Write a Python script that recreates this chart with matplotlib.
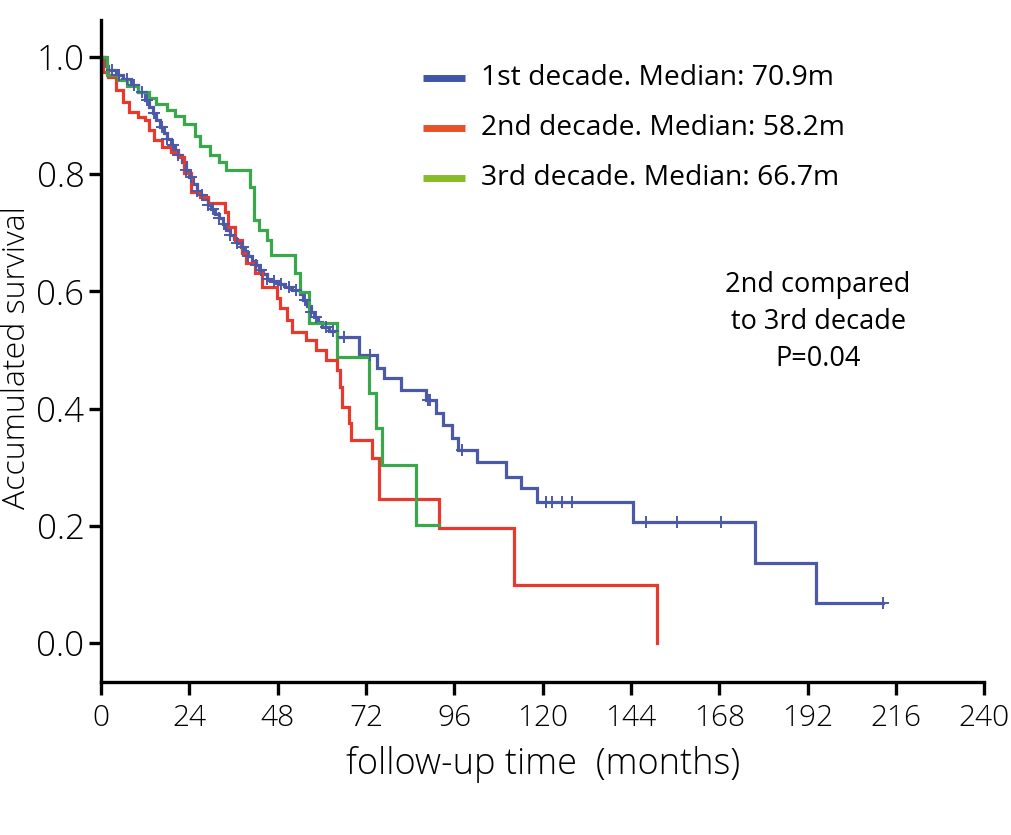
import numpy as np
import matplotlib
matplotlib.use("Agg")
import matplotlib.pyplot as plt
from matplotlib import font_manager

# ---------------- data ----------------
blue_t = [0, 1, 2, 4, 6, 8, 10, 12, 13, 14, 15, 16, 17, 18, 19, 20, 21, 22, 23, 24, 25, 26, 27, 28,
          29, 30, 31, 32, 33, 34, 35, 36, 37, 38, 39, 40, 41, 42, 43, 44, 45, 46, 48, 50, 52, 54,
          55, 56, 57, 58, 59, 60, 62, 64, 70.2, 75, 77, 81.6, 88.3, 91, 93, 95.5, 97, 102.2, 110,
          114, 118.4, 144.7, 177.8, 194.3]
blue_s = [1.0, 0.985, 0.978, 0.97, 0.962, 0.952, 0.94, 0.927, 0.915, 0.905, 0.893, 0.88, 0.87,
          0.86, 0.85, 0.841, 0.832, 0.82, 0.808, 0.795, 0.784, 0.772, 0.765, 0.757, 0.748, 0.74,
          0.732, 0.725, 0.715, 0.705, 0.697, 0.69, 0.682, 0.675, 0.668, 0.66, 0.652, 0.645, 0.637,
          0.63, 0.622, 0.617, 0.613, 0.607, 0.602, 0.595, 0.585, 0.575, 0.565, 0.556, 0.548, 0.54,
          0.532, 0.522, 0.491, 0.469, 0.452, 0.432, 0.415, 0.392, 0.372, 0.35, 0.329, 0.309, 0.283,
          0.264, 0.241, 0.206, 0.137, 0.068]
blue_end = 212.5
blue_censor = [3, 5, 7, 9, 11, 12.5, 14.5, 16.5, 18, 19.5, 21, 23, 24.5, 26, 27.5, 29, 30.5, 32,
               33.5, 35, 37, 38.5, 40, 42, 43.5, 45, 47, 49, 51, 53, 55.5, 57, 58.5, 61, 63, 66,
               73, 88.8, 89.5, 98, 121, 122.5, 125.2, 127.9, 148, 156.5, 168.6, 212.5]

red_t = [0, 0.5, 2, 4, 6, 7.5, 10, 12, 13, 14.5, 16.5, 19, 21, 22.5, 24.5, 27, 29, 33.6, 34.5,
         36.3, 38.2, 39.5, 41.7, 43.6, 47.7, 48.5, 50.4, 52, 55.8, 58.5, 61.2, 64, 64.8, 65.5,
         67.5, 68, 73.7, 75.6, 91.9, 112.2, 151]
red_s = [1.0, 0.975, 0.966, 0.944, 0.923, 0.906, 0.898, 0.892, 0.875, 0.858, 0.846, 0.838, 0.829,
         0.802, 0.77, 0.761, 0.751, 0.735, 0.71, 0.688, 0.666, 0.648, 0.631, 0.608, 0.589, 0.572,
         0.551, 0.531, 0.517, 0.5, 0.483, 0.466, 0.437, 0.403, 0.375, 0.346, 0.316, 0.246, 0.196,
         0.099, 0.0]
red_end = 151

green_t = [0, 1.5, 4.6, 7, 10, 13, 15, 18, 20, 22.5, 25.5, 27, 29.5, 32, 34, 40.4, 41.5, 43, 45,
           46.2, 52.6, 54, 56.6, 64, 72.9, 74.6, 76.4, 85.6]
green_s = [1.0, 0.97, 0.96, 0.95, 0.94, 0.93, 0.92, 0.91, 0.9, 0.885, 0.865, 0.848, 0.833, 0.82,
           0.807, 0.778, 0.722, 0.705, 0.688, 0.662, 0.631, 0.599, 0.546, 0.488, 0.427, 0.367,
           0.304, 0.201]
green_end = 91.9

labels = ["1st decade. Median: 70.9m", "2nd decade. Median: 58.2m", "3rd decade. Median: 66.7m"]
x_ticks = [0, 24, 48, 72, 96, 120, 144, 168, 192, 216, 240]
y_ticks = [0.0, 0.2, 0.4, 0.6, 0.8, 1.0]
annotation = "2nd compared\nto 3rd decade\nP=0.04"

# ---------------- style ----------------
names = {f.name for f in font_manager.fontManager.ttflist}
main_font = "Open Sans" if "Open Sans" in names else "DejaVu Sans"

c_blue, c_red, c_green = "#4b5aa8", "#e8392d", "#38a84a"
leg_colors = ["#3f56a6", "#e8502a", "#86bd27"]

fig = plt.figure(figsize=(10.11, 8.35), dpi=100)
ax = fig.add_axes([0.100, 0.183, 0.8734, 0.793])


def step_curve(t, s, end):
    tt = list(t) + [end]
    ss = list(s) + [s[-1]]
    return tt, ss


for t, s, end, c in [(blue_t, blue_s, blue_end, c_blue),
                     (red_t, red_s, red_end, c_red),
                     (green_t, green_s, green_end, c_green)]:
    tt, ss = step_curve(t, s, end)
    ax.step(tt, ss, where="post", color=c, lw=2.3, solid_joinstyle="miter")

# censor marks on blue curve
bt = np.array(blue_t)
bs = np.array(blue_s)
cy = [bs[np.searchsorted(bt, c, side="right") - 1] for c in blue_censor]
ax.plot(blue_censor, cy, ls="none", marker="+", ms=8, mew=1.4, color=c_blue)

ax.set_xlim(0, 240)
ax.set_ylim(-0.0666, 1.063)
ax.set_xticks(x_ticks)
ax.set_xticklabels([str(v) for v in x_ticks])
ax.set_yticks(y_ticks)
ax.set_yticklabels([f"{v:.1f}" for v in y_ticks])

for sp in ["top", "right"]:
    ax.spines[sp].set_visible(False)
for sp in ["left", "bottom"]:
    ax.spines[sp].set_linewidth(2.4)
ax.tick_params(axis="both", width=2.4, length=9, color="black")
ax.tick_params(axis="x", labelsize=21.5, pad=6)
ax.tick_params(axis="y", labelsize=25, pad=3)
for lab in ax.get_xticklabels() + ax.get_yticklabels():
    lab.set_fontfamily(main_font)
    lab.set_fontweight("light")

ax.set_xlabel("follow-up time  (months)", fontsize=26, fontfamily=main_font,
              fontweight="light", labelpad=10)
ax.set_ylabel("Accumulated survival", fontsize=23, fontfamily=main_font, fontweight="light")
ax.yaxis.set_label_coords(-0.077, 0.49)

# legend (manual)
for i, (lab, col) in enumerate(zip(labels, leg_colors)):
    yy = 0.912 - i * 0.075
    ax.plot([0.364, 0.412], [yy, yy], transform=ax.transAxes, color=col, lw=5,
            solid_capstyle="butt", clip_on=False)
    ax.text(0.430, yy, lab, transform=ax.transAxes, va="center", ha="left",
            fontsize=20.3, fontfamily=main_font)

ax.text(0.812, 0.544, annotation, transform=ax.transAxes, ha="center", va="center",
        fontsize=19.5, fontfamily=main_font, linespacing=1.45)

fig.savefig("out.png", dpi=100)
